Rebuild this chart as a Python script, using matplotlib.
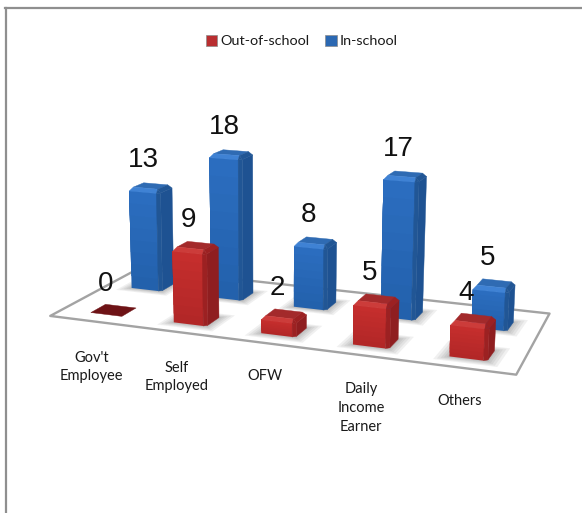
import numpy as np
import matplotlib
matplotlib.use("Agg")
import matplotlib.pyplot as plt
from matplotlib.colors import to_rgb
from matplotlib.lines import Line2D
from matplotlib.patches import Patch
from mpl_toolkits.mplot3d import proj3d
from mpl_toolkits.mplot3d.art3d import Poly3DCollection

plt.rcParams["font.family"] = ["Liberation Sans", "DejaVu Sans"]

categories = ["Gov't\nEmployee", "Self\nEmployed", "OFW", "Daily\nIncome\nEarner", "Others"]
out_of_school = [0, 9, 2, 5, 4]
in_school = [13, 18, 8, 17, 5]

W, H = 582, 513
BAR_W, BAR_D = 0.377, 0.319
ROW_Y = {"out": 0.419, "in": 1.383}
ROW_DX = {"out": 0.034, "in": 0.017}

RED = dict(top="#a32a2b", rim="#cc3c3a", hi="#c62f2d", lo="#b12627", side="#8f1e20", edge="#9c2122")
BLUE = dict(top="#2f6bb3", rim="#3f82d4", hi="#2c6ec0", lo="#2260ab", side="#1e5292", edge="#215695")


def blend(a, b, t):
    a, b = np.array(to_rgb(a)), np.array(to_rgb(b))
    return tuple(a + (b - a) * t)


def add_polys(ax, verts, cols, zorder):
    coll = Poly3DCollection(verts, facecolors=cols, edgecolors=cols, linewidths=0.3, zorder=zorder)
    ax.add_collection3d(coll)
    coll.set_clip_on(False)


def add_shadow(ax, x0, x1, y0, y1, zorder):
    # soft contact shadow, built from a few stacked translucent rectangles
    for m in (0.13, 0.10, 0.07, 0.045, 0.02):
        quad = [(x0 - m, y0 - m, 0), (x1 + m, y0 - m, 0), (x1 + m, y1 + m, 0), (x0 - m, y1 + m, 0)]
        coll = Poly3DCollection([quad], facecolors=[(0.25, 0.25, 0.25, 0.075)], edgecolors="none", zorder=zorder)
        ax.add_collection3d(coll)
        coll.set_clip_on(False)


def add_bar(ax, xc, yc, h, pal, zorder):
    x0, x1 = xc - BAR_W / 2, xc + BAR_W / 2
    y0, y1 = yc - BAR_D / 2, yc + BAR_D / 2
    if h == 0:
        # a zero value only leaves a flat plate on the floor
        plate = [(x0, y0, 0), (x1, y0, 0), (x1, y1, 0), (x0, y1, 0)]
        add_polys(ax, [plate], ["#6e1316"], zorder)
        return
    add_shadow(ax, x0, x1, y0, y1, 2)
    c = 0.035
    cz = min(0.45, h * 0.2)
    top = h - cz
    # front face: each strip reaches up to the bevel and the next one paints over it
    n = 8
    for i, z in enumerate(np.linspace(0, top, n, endpoint=False)):
        strip = [(x0, y0, z), (x1 - c, y0, z), (x1 - c, y0, top), (x0, y0, top)]
        coll = Poly3DCollection([strip], facecolors=[blend(pal["lo"], pal["hi"], (i + 0.5) / n)],
                                edgecolors="none", zorder=zorder + i * 0.0001)
        ax.add_collection3d(coll)
        coll.set_clip_on(False)
    verts, cols = [], []
    # right face and the rounded corner next to it
    verts.append([(x1, y0 + c, 0), (x1, y1, 0), (x1, y1, top), (x1, y0 + c, top)])
    cols.append(pal["side"])
    verts.append([(x1 - c, y0, 0), (x1, y0 + c, 0), (x1, y0 + c, top), (x1 - c, y0, top)])
    cols.append(pal["edge"])
    # bevels and top
    verts.append([(x0, y0, top), (x1 - c, y0, top), (x1 - c, y0 + c, h), (x0 + c, y0 + c, h)])
    cols.append(pal["rim"])
    verts.append([(x1, y0 + c, top), (x1, y1, top), (x1 - c, y1 - c, h), (x1 - c, y0 + c, h)])
    cols.append(pal["edge"])
    verts.append([(x1 - c, y0, top), (x1, y0 + c, top), (x1 - c, y0 + c, h)])
    cols.append(pal["edge"])
    verts.append([(x0 + c, y0 + c, h), (x1 - c, y0 + c, h), (x1 - c, y1 - c, h), (x0 + c, y1 - c, h)])
    cols.append(pal["top"])
    add_polys(ax, verts, cols, zorder + 0.001)


fig = plt.figure(figsize=(W / 100, H / 100), dpi=100)
fig.patch.set_facecolor("white")
ax = fig.add_axes([0, 0, 1, 1], projection="3d", computed_zorder=False)
ax.set_axis_off()
ax.patch.set_alpha(0)
ax.set_xlim(0, 5)
ax.set_ylim(0, 2)
ax.set_zlim(0, 20)
ax.view_init(elev=13.878, azim=-69.659, roll=-0.368)
ax.set_proj_type("persp", focal_length=0.7941)
ax.set_box_aspect((1, 0.4138, 0.3644), zoom=1.6568)

# scale and shift the axes box so the floor lands where it should on the canvas
target_s, target_x, target_y = 1695.04, 301.58, 232.59
side = float(H)
ax.set_position([0, 0, side / W, side / H])
ax.apply_aspect()
p0, p1 = ax.transData.transform([[0, 0], [1, 1]])
side *= target_s / (p1[0] - p0[0])
ax.set_position([0, 0, side / W, side / H])
ax.apply_aspect()
p0 = ax.transData.transform([[0, 0]])[0]
ax.set_position([(target_x - p0[0]) / W, (H - target_y - p0[1]) / H, side / W, side / H])

floor = [(0, 0, 0), (5.06, 0, 0), (5, 2, 0), (0, 2, 0)]
floor_coll = Poly3DCollection([floor], facecolors="white", edgecolors="#a3a3a3", linewidths=1.7, zorder=1)
ax.add_collection3d(floor_coll)
floor_coll.set_clip_on(False)

for i, v in enumerate(in_school):
    add_bar(ax, i + 0.5 + ROW_DX["in"], ROW_Y["in"], v, BLUE, 3 + i * 0.01)
for i, v in enumerate(out_of_school):
    add_bar(ax, i + 0.5 + ROW_DX["out"], ROW_Y["out"], v, RED, 4 + i * 0.01)

# value labels hang a fixed pixel offset above each projected bar top
M = ax.get_proj()
for vals, row in ((in_school, "in"), (out_of_school, "out")):
    for i, v in enumerate(vals):
        px, py, _ = proj3d.proj_transform(i + 0.5 + ROW_DX[row], ROW_Y[row], v, M)
        ax.annotate(str(v), (px, py), xytext=(-7, 25.5), textcoords="offset pixels", fontsize=20,
                    color="#111111", ha="center", va="center", annotation_clip=False, zorder=6)

# category names and legend sit flat on the canvas, in pixel coordinates
label_x = [91.5, 177, 265, 361, 460]
label_y = [367, 377, 376, 408, 401]
for name, lx, ly in zip(categories, label_x, label_y):
    fig.text(lx / W, 1 - ly / H, name, ha="center", va="center", fontsize=10.5, color="#1a1a1a",
             family="Lato", linespacing=1.42)

handles = [Patch(facecolor="#b92e30", edgecolor="#8c8c8c", linewidth=0.5, label="Out-of-school"),
           Patch(facecolor="#2b68b2", edgecolor="#8c8c8c", linewidth=0.5, label="In-school")]
fig.legend(handles=handles, loc="center", bbox_to_anchor=(301.5 / W, 1 - 41 / H), ncol=2, frameon=False,
           prop={"family": "Lato", "size": 10.4}, handlelength=0.8, handleheight=0.8,
           handletextpad=0.2, columnspacing=1.1, labelcolor="#1a1a1a")

fig.add_artist(Line2D([5.5 / W, 5.5 / W], [0, 1 - 7.5 / H], color="#8f8f8f", lw=1.6, transform=fig.transFigure))
fig.add_artist(Line2D([4.8 / W, 1], [1 - 7.5 / H, 1 - 7.5 / H], color="#8f8f8f", lw=1.6, transform=fig.transFigure))

fig.savefig("out.png", dpi=100)
